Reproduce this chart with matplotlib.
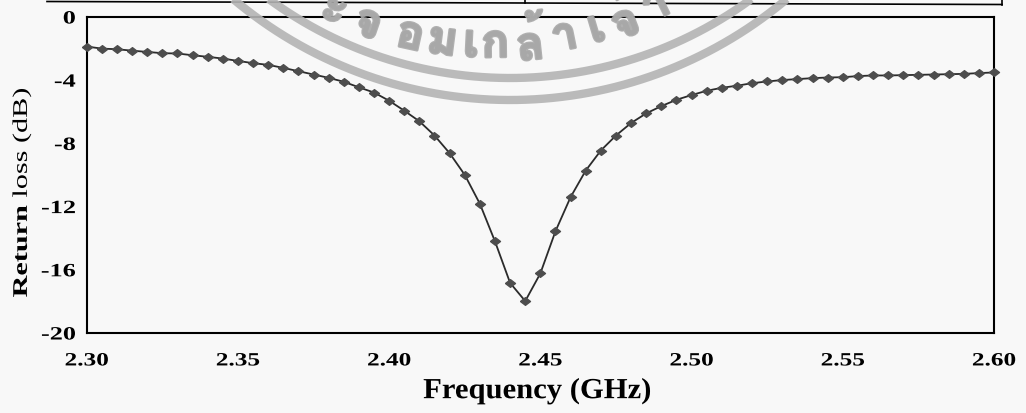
import numpy as np
import matplotlib
matplotlib.use("Agg")
import matplotlib.pyplot as plt
from matplotlib import patheffects, font_manager
from matplotlib.transforms import Affine2D
from matplotlib.ft2font import FT2Font

# measured return loss, 5 MHz sweep 2.30 - 2.60 GHz
freq = np.linspace(2.30, 2.60, 61)
return_loss = [-1.87, -2.00, -2.04, -2.13, -2.21, -2.29, -2.31, -2.42, -2.52, -2.63,
               -2.78, -2.92, -3.03, -3.22, -3.43, -3.64, -3.85, -4.10, -4.45, -4.78,
               -5.30, -5.93, -6.60, -7.50, -8.62, -9.99, -11.82, -14.20, -16.83, -17.98,
               -16.23, -13.56, -11.40, -9.72, -8.45, -7.50, -6.71, -6.10, -5.64, -5.24,
               -4.94, -4.67, -4.48, -4.35, -4.19, -4.08, -3.99, -3.93, -3.87, -3.83,
               -3.81, -3.74, -3.70, -3.70, -3.68, -3.66, -3.64, -3.62, -3.60, -3.55, -3.51]
xticks = [2.30, 2.35, 2.40, 2.45, 2.50, 2.55, 2.60]
yticks = [0, -4, -8, -12, -16, -20]

# watermark text pieces and their angle on the stamp circle (deg)
wm_text = ["ะ", "จ", "อ", "ม", "เ", "ก", "ล้", "า", "เ", "จ้", "า"]
wm_angle = [-24.6, -19.0, -12.3, -7.3, -2.9, 0.8, 6.1, 11.5, 16.5, 21.0, 26.3]

plt.rcParams['font.family'] = ['Liberation Serif', 'DejaVu Serif']
plt.rcParams['mathtext.fontset'] = 'custom'
plt.rcParams['mathtext.rm'] = 'Liberation Serif'
plt.rcParams['mathtext.bf'] = 'Liberation Serif:bold'


class Stretch(patheffects.AbstractPathEffect):
    # scanned chart has text stretched along its direction
    def __init__(self, sx=1.0, sy=1.0, anchor='center'):
        super().__init__()
        self.sx, self.sy, self.anchor = sx, sy, anchor

    def draw_path(self, renderer, gc, tpath, affine, rgbFace=None):
        ext = tpath.get_extents(affine)
        px = ext.x1 if self.anchor == 'right' else (ext.x0 + ext.x1) / 2
        py = (ext.y0 + ext.y1) / 2
        t = affine + Affine2D().translate(-px, -py).scale(self.sx, self.sy).translate(px, py)
        renderer.draw_path(gc, tpath, t, rgbFace)


def thai_font():
    for f in font_manager.fontManager.ttflist:
        try:
            if FT2Font(f.fname).get_char_index(ord("จ")):
                return f.fname
        except Exception:
            pass
    return None


W, H = 1026, 413
bg = '#f8f8f8'
fig = plt.figure(figsize=(W / 100, H / 100), dpi=100, facecolor=bg)
ax = fig.add_axes([86.7 / W, 1 - 333 / H, (994 - 86.7) / W, (333 - 17) / H], facecolor=bg)

diamond = [(-1.3, 0), (0, 1), (1.3, 0), (0, -1), (-1.3, 0)]
ax.plot(freq, return_loss, color='#2b2b2b', lw=1.3, marker=diamond, markersize=7.2,
        markerfacecolor='#4d4d4d', markeredgecolor='#4d4d4d', clip_on=False, zorder=3)

ax.set_xlim(2.30, 2.60)
ax.set_ylim(-20, 0)
ax.set_xticks(xticks)
ax.set_xticklabels(['%.2f' % v for v in xticks])
ax.set_yticks(yticks)
ax.set_yticklabels([str(v) for v in yticks])
ax.tick_params(axis='x', length=0, pad=14, labelsize=13.5)
ax.tick_params(axis='y', length=0, pad=8, labelsize=13.5)
for lab in ax.get_xticklabels():
    lab.set_fontweight('bold')
    lab.set_path_effects([Stretch(sx=1.35)])
for lab in ax.get_yticklabels():
    lab.set_fontweight('bold')
    lab.set_path_effects([Stretch(sx=1.4, anchor='right')])
for s in ax.spines.values():
    s.set_color('black')
    s.set_linewidth(1.5)

fig.text(537 / W, 1 - 391 / H, 'Frequency (GHz)', ha='center', va='center',
         fontsize=21, fontweight='bold', path_effects=[Stretch(sx=1.05)])
fig.text(22 / W, 1 - 192 / H, r'$\mathbf{Return}$ loss (dB)', ha='center', va='center',
         rotation=90, fontsize=15, path_effects=[Stretch(sy=1.45)])

# overlay: table border from the page above and the library stamp
ov = fig.add_axes([0, 0, 1, 1], zorder=10)
ov.set_xlim(0, W)
ov.set_ylim(H, 0)
ov.axis('off')
ov.patch.set_alpha(0)
ov.plot([47, 1002], [1.5, 4.5], color='black', lw=1.2)
ov.plot([525, 525], [0, 3], color='black', lw=1.2)
ov.plot([1002, 1002], [0, 4.5], color='black', lw=1.2)

th = np.radians(np.linspace(-60, 60, 200))
for r in (408, 430):
    ov.plot(510 + r * np.sin(th), -330 + r * np.cos(th), color='#b4b4b4', lw=6,
            alpha=0.9, solid_capstyle='butt')

tf = thai_font()
if tf:
    fp = font_manager.FontProperties(fname=tf, size=33)
    for ch, a in zip(wm_text, wm_angle):
        t = np.radians(a)
        ov.text(490 + 375 * np.sin(t), -330 + 375 * np.cos(t), ch, fontproperties=fp,
                color='#a8a8a8', alpha=0.9, ha='center', va='center', rotation=a,
                rotation_mode='anchor',
                path_effects=[patheffects.withStroke(linewidth=2, foreground='#a8a8a8')])

fig.savefig('out.png', dpi=100, facecolor=bg)
